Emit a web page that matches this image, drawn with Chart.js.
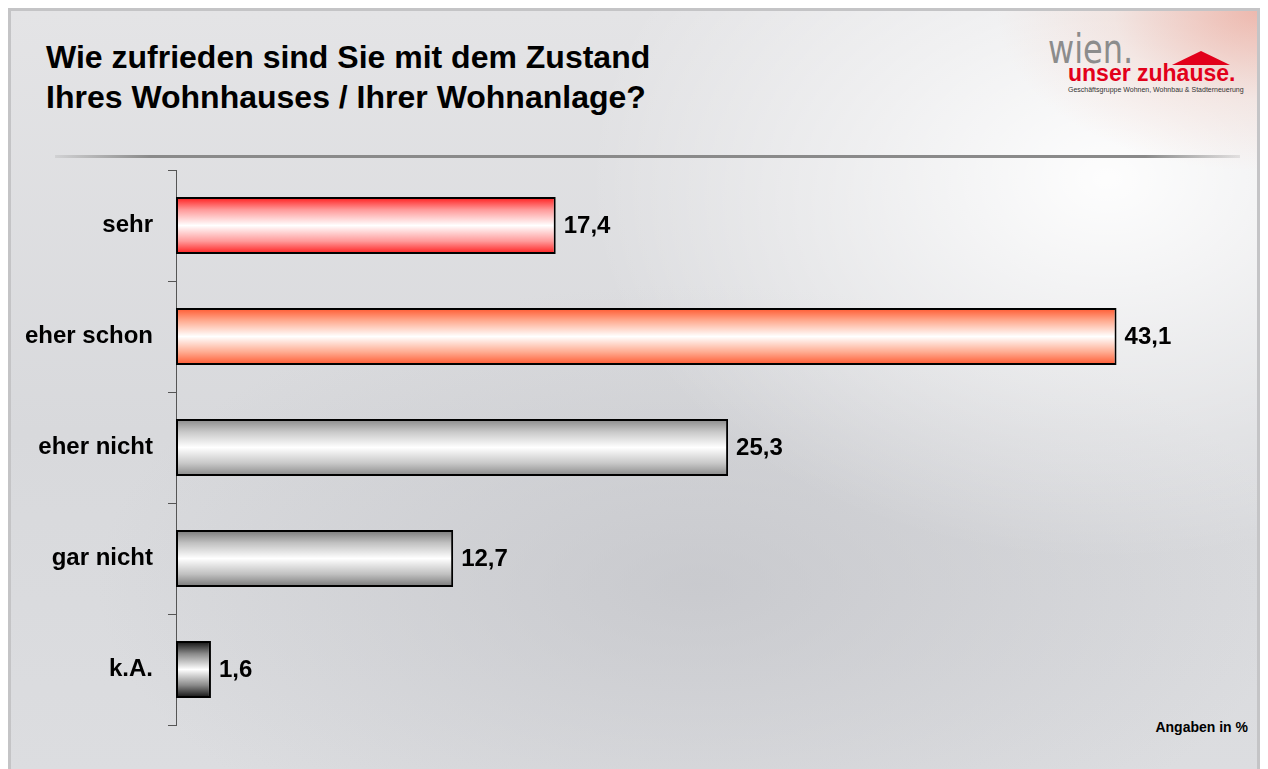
<!DOCTYPE html>
<html>
<head>
<meta charset="utf-8">
<script src="https://cdn.jsdelivr.net/npm/chart.js@4/dist/chart.umd.min.js"></script>
<style>
  html, body { margin: 0; padding: 0; }
  body {
    width: 1268px; height: 769px; position: relative; overflow: hidden;
    font-family: "Liberation Sans", Arial, sans-serif;
    background: #ffffff;
  }
  #frame {
    position: absolute; left: 8px; top: 8px; width: 1252px; height: 770px;
    border: 3px solid #c4c4c6; box-sizing: border-box;
    background:
      radial-gradient(ellipse 260px 160px at 100% 0%, rgba(235,140,120,0.55), rgba(240,190,175,0.25) 55%, rgba(255,255,255,0) 100%),
      radial-gradient(ellipse 520px 380px at 88% 22%, rgba(255,255,255,0.95), rgba(255,255,255,0.5) 45%, rgba(255,255,255,0) 100%),
      radial-gradient(ellipse 600px 300px at 55% 75%, rgba(190,191,196,0.6), rgba(190,191,196,0) 100%),
      linear-gradient(180deg, #e4e4e6 0%, #d8d9dc 55%, #dcdde0 100%);
  }
  #title {
    position: absolute; left: 46px; top: 37px;
    font-weight: bold; font-size: 32px; line-height: 40px; color: #000;
  }
  #sep {
    position: absolute; left: 55px; top: 155px; width: 1185px; height: 3px;
    background: linear-gradient(90deg, rgba(150,150,150,0.2), #8a8a8a 8%, #8a8a8a 92%, rgba(150,150,150,0.2));
  }
  #wien {
    position: absolute; left: 1048px; top: 29px; font-size: 40px; line-height: 40px; color: #8c8c8c;
    font-family: "DejaVu Sans", sans-serif; transform: scaleX(0.8); transform-origin: left top;
  }
  #roof {
    position: absolute; left: 1172px; top: 51px; width: 0; height: 0;
    border-left: 29px solid transparent; border-right: 29px solid transparent;
    border-bottom: 14px solid #e2001a;
  }
  #zuhause {
    position: absolute; left: 1068px; top: 60px; font-size: 23px; font-weight: bold; color: #e2001a;
  }
  #sub {
    position: absolute; left: 1068px; top: 86px; font-size: 7px; color: #333; white-space: nowrap;
  }
  #note {
    position: absolute; right: 20px; top: 719px; font-size: 14px; font-weight: bold; color: #000;
  }
  #chart { position: absolute; left: 0; top: 0; }
</style>
</head>
<body>
<div id="frame"></div>
<div id="title">Wie zufrieden sind Sie mit dem Zustand<br>Ihres Wohnhauses / Ihrer Wohnanlage?</div>
<div id="wien">wien.</div>
<div id="roof"></div>
<div id="zuhause">unser zuhause.</div>
<div id="sub">Geschäftsgruppe Wohnen, Wohnbau &amp; Stadterneuerung</div>
<div id="sep"></div>
<div id="note">Angaben in %</div>
<canvas id="chart" width="1268" height="769"></canvas>
<script>
// categories and values (percent)
const categories = ["sehr", "eher schon", "eher nicht", "gar nicht", "k.A."];
const values = [17.4, 43.1, 25.3, 12.7, 1.6];

// edge colour of each bar's gradient (middle is white)
const edgeColors = ["#ff1e1e", "#ff5a32", "#8a8a8a", "#7a7a7a", "#111111"];
const midColors = ["#ff9a9a", "#ffab90", "#c8c8c8", "#c0c0c0", "#8a8a8a"];

const fmt = (v) => v.toLocaleString("de-DE", { minimumFractionDigits: 1, maximumFractionDigits: 1 });

function barGradient(context) {
  const { chart, dataIndex } = context;
  const { ctx, chartArea, scales } = chart;
  if (!chartArea || !scales.y) return edgeColors[dataIndex];
  const yc = scales.y.getPixelForValue(dataIndex);
  const half = 28;
  const g = ctx.createLinearGradient(0, yc - half, 0, yc + half);
  g.addColorStop(0, edgeColors[dataIndex]);
  g.addColorStop(0.22, midColors[dataIndex]);
  g.addColorStop(0.5, "#ffffff");
  g.addColorStop(0.78, midColors[dataIndex]);
  g.addColorStop(1, edgeColors[dataIndex]);
  return g;
}

// value labels at bar ends
const valueLabels = {
  id: "valueLabels",
  afterDatasetsDraw(chart) {
    const { ctx } = chart;
    const meta = chart.getDatasetMeta(0);
    ctx.save();
    ctx.font = "bold 24px 'Liberation Sans', Arial, sans-serif";
    ctx.fillStyle = "#000";
    ctx.textBaseline = "middle";
    ctx.textAlign = "left";
    meta.data.forEach((bar, i) => {
      ctx.fillText(fmt(values[i]), bar.x + 8, bar.y + 1);
    });
    ctx.restore();
  }
};

new Chart(document.getElementById("chart").getContext("2d"), {
  type: "bar",
  data: {
    labels: categories,
    datasets: [{
      data: values,
      backgroundColor: barGradient,
      borderColor: "#000",
      borderWidth: 2,
      borderSkipped: false,
      categoryPercentage: 1,
      barPercentage: 0.515
    }]
  },
  options: {
    indexAxis: "y",
    responsive: false,
    animation: false,
    layout: { padding: { top: 170, bottom: 44, right: 110, left: 0 } },
    scales: {
      x: { display: false, min: 0, max: 45 },
      y: {
        afterFit: (scale) => { scale.width = 176; },
        grid: {
          display: true, drawOnChartArea: false, drawTicks: true,
          tickLength: 8, color: "#555", offset: true
        },
        border: { display: true, color: "#555", width: 1 },
        ticks: {
          color: "#000", padding: 15,
          font: { family: "'Liberation Sans', Arial, sans-serif", size: 24, weight: "bold" }
        }
      }
    },
    plugins: {
      legend: { display: false },
      tooltip: { enabled: false },
      title: { display: false }
    }
  },
  plugins: [valueLabels]
});
</script>
</body>
</html>
